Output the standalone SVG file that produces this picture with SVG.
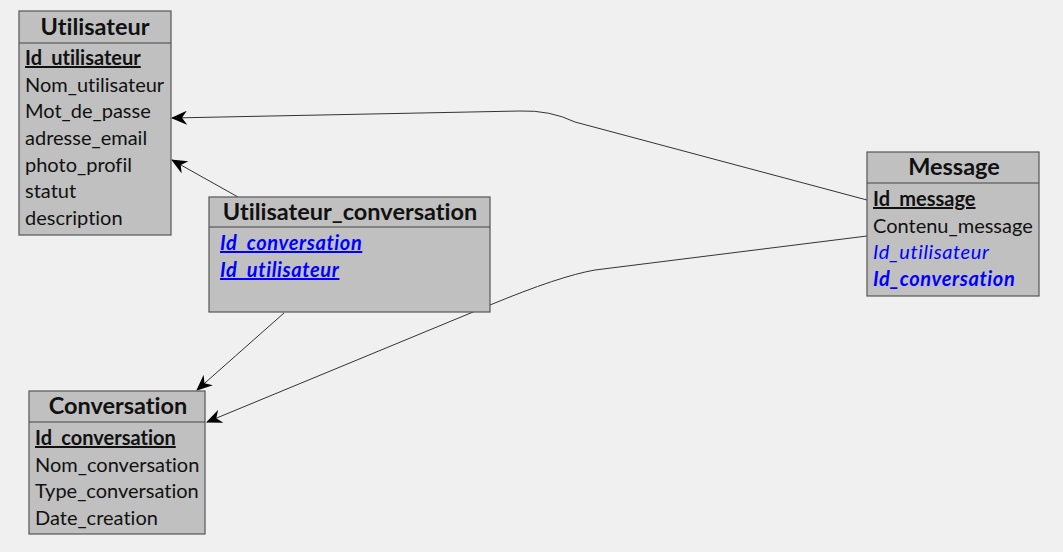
<svg xmlns="http://www.w3.org/2000/svg" width="1063" height="552" viewBox="0 0 1063 552">
<defs>
<marker id="arr" viewBox="0 0 16 14" refX="15" refY="7" markerWidth="16" markerHeight="14" markerUnits="userSpaceOnUse" orient="auto">
<path d="M0,0 L16,7 L0,14 L5,7 Z" fill="#000"/>
</marker>
<style>
.box{fill:#c0c0c0;stroke:#555;stroke-width:1.2}
.div{stroke:#444;stroke-width:1.2}
text{font-variant-ligatures:none}
.t{font-family:Lato,"Noto Sans",sans-serif;font-weight:bold;font-size:23.5px;fill:#111;text-anchor:middle}
.f{font-family:Lato,"Noto Sans",sans-serif;font-size:20px;fill:#111}
.pk{font-weight:bold;text-decoration:underline}
.fk{fill:#0000ff;font-style:italic;letter-spacing:0.6px}
.fkb{fill:#0000ff;font-style:italic;font-weight:bold;letter-spacing:0.6px}
.fku{fill:#0000ff;font-style:italic;font-weight:bold;text-decoration:underline;letter-spacing:0.6px}
.c{fill:none;stroke:#333;stroke-width:1}
</style>
</defs>
<rect width="1063" height="552" fill="#f0f0f0"/>
<g id="connectors">
<path class="c" d="M867,200 L575,122 Q550,110 520,111 L172,118" marker-end="url(#arr)"/>
<path class="c" d="M238,197 L172,160" marker-end="url(#arr)"/>
<path class="c" d="M284,313 L197,390" marker-end="url(#arr)"/>
<path class="c" d="M867,236 L595,270 Q560,276 490,305 L207,422" marker-end="url(#arr)"/>
</g>
<g id="Utilisateur">
<rect class="box" x="19" y="11" width="152" height="224"/>
<line class="div" x1="19" y1="43" x2="171" y2="43"/>
<text class="t" x="95" y="35">Utilisateur</text>
<text class="f pk" x="25" y="65">Id_utilisateur</text>
<text class="f" x="25" y="92">Nom_utilisateur</text>
<text class="f" x="25" y="118">Mot_de_passe</text>
<text class="f" x="25" y="145">adresse_email</text>
<text class="f" x="25" y="172">photo_profil</text>
<text class="f" x="25" y="198">statut</text>
<text class="f" x="25" y="225">description</text>
</g>
<g id="Utilisateur_conversation">
<rect class="box" x="209" y="197" width="281" height="115"/>
<line class="div" x1="209" y1="227" x2="490" y2="227"/>
<text class="t" x="350" y="220">Utilisateur_conversation</text>
<text class="f fku" x="220" y="250">Id_conversation</text>
<text class="f fku" x="220" y="277">Id_utilisateur</text>
</g>
<g id="Message">
<rect class="box" x="867" y="152" width="172" height="144"/>
<line class="div" x1="867" y1="183" x2="1039" y2="183"/>
<text class="t" x="954" y="175">Message</text>
<text class="f pk" x="873" y="206">Id_message</text>
<text class="f" x="873" y="233">Contenu_message</text>
<text class="f fk" x="873" y="259">Id_utilisateur</text>
<text class="f fkb" x="873" y="286">Id_conversation</text>
</g>
<g id="Conversation">
<rect class="box" x="29" y="391" width="176" height="143"/>
<line class="div" x1="29" y1="422" x2="205" y2="422"/>
<text class="t" x="118" y="414">Conversation</text>
<text class="f pk" x="35" y="445">Id_conversation</text>
<text class="f" x="35" y="472">Nom_conversation</text>
<text class="f" x="35" y="498">Type_conversation</text>
<text class="f" x="35" y="525">Date_creation</text>
</g>
</svg>
